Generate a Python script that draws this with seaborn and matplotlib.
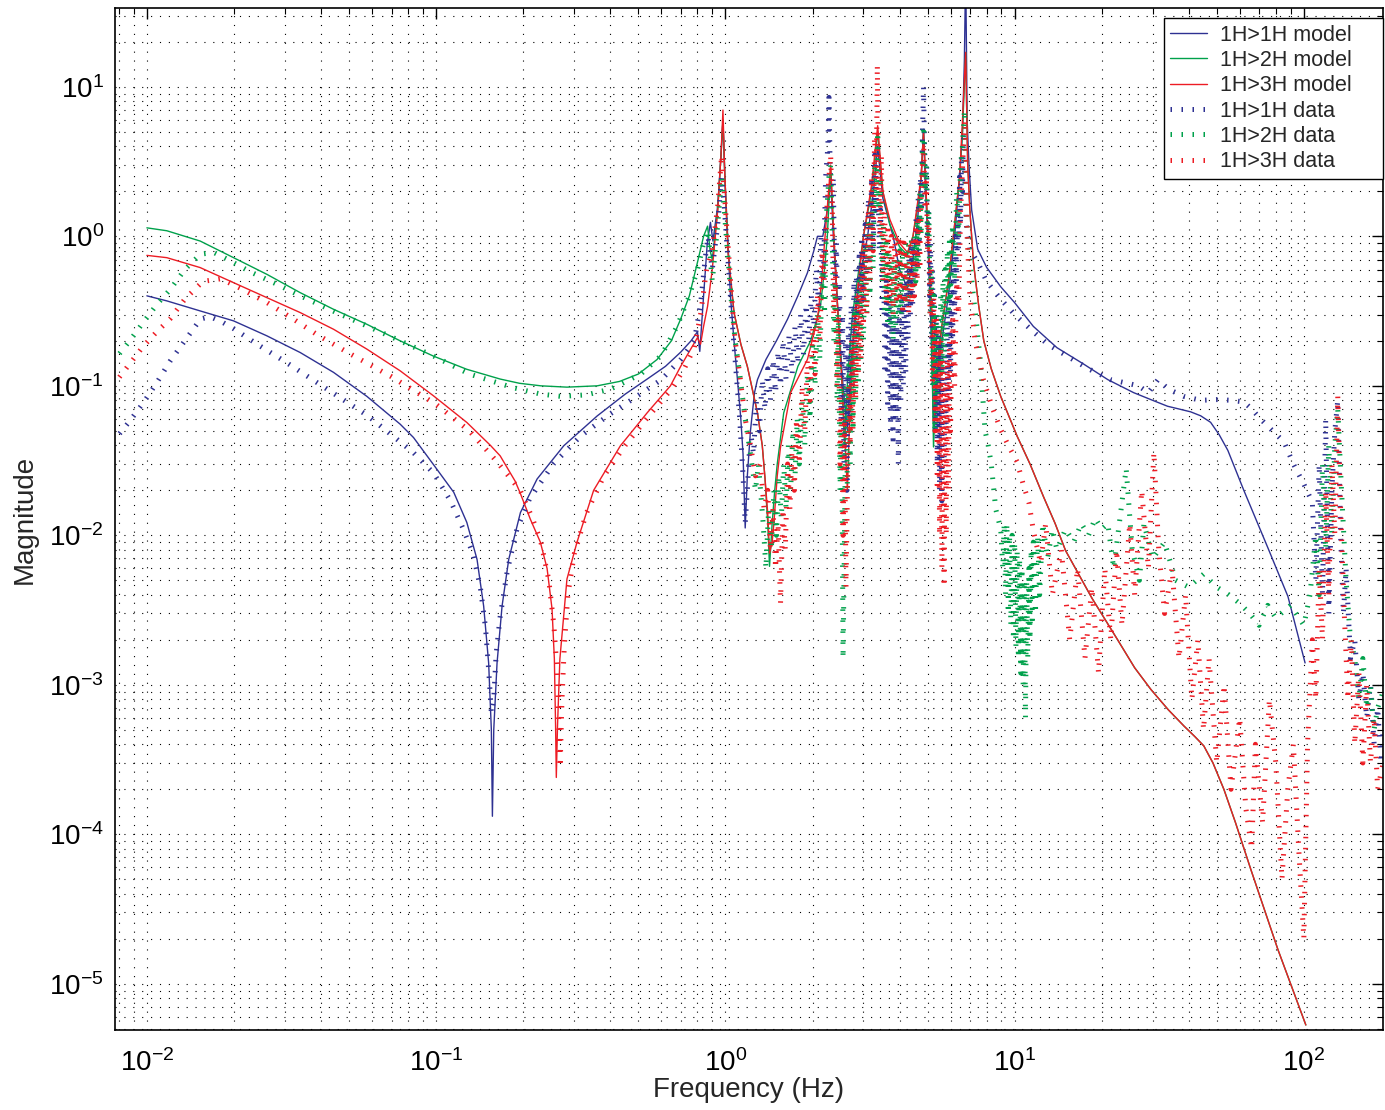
import numpy as np
import pandas as pd
import matplotlib
matplotlib.use("Agg")
import matplotlib.pyplot as plt
import seaborn as sns
from matplotlib.ticker import FixedLocator, LogLocator, NullFormatter, LogFormatterSciNotation

# ---------- Data (frequency in Hz, magnitude) ----------
model_1h1h = [
    (0.00998, 0.40), (0.0117, 0.370), (0.01526, 0.317), (0.0199, 0.272), (0.02595, 0.216),
    (0.03384, 0.167), (0.04413, 0.123), (0.05754, 0.085), (0.0750, 0.0554), (0.0834, 0.0451),
    (0.0978, 0.0297), (0.1149, 0.0194), (0.1275, 0.0122), (0.1383, 0.0069), (0.1458, 0.00336),
    (0.1517, 0.0014), (0.155, 0.0005), (0.1563, 0.000132), (0.158, 0.0005), (0.1622, 0.0014),
    (0.1688, 0.00336), (0.178, 0.0069), (0.1954, 0.0142), (0.2231, 0.0238), (0.2758, 0.0397),
    (0.3597, 0.0628), (0.45, 0.088), (0.536, 0.111), (0.62, 0.135), (0.70, 0.168), (0.76, 0.20),
    (0.80, 0.23), (0.815, 0.17), (0.84, 0.4), (0.865, 0.9), (0.887, 1.24), (0.905, 0.93),
    (0.94, 1.6), (0.965, 3.5), (0.98, 6.0), (0.995, 2.5), (1.02, 0.9), (1.04, 0.40), (1.07, 0.2),
    (1.10, 0.11), (1.13, 0.06), (1.15, 0.035), (1.17, 0.0112), (1.19, 0.025), (1.22, 0.05),
    (1.26, 0.09), (1.29, 0.11), (1.38, 0.15), (1.5, 0.2), (1.64, 0.28), (1.78, 0.4), (1.92, 0.57),
    (2.02, 0.8), (2.08, 1.0), (2.17, 1.0), (2.25, 1.5), (2.31, 2.5), (2.36, 1.0), (2.45, 0.3),
    (2.55, 0.1), (2.64, 0.05), (2.72, 0.15), (2.9, 0.5), (3.1, 1.0), (3.25, 2.0), (3.36, 4.0),
    (3.5, 1.8), (3.8, 1.0), (4.0, 0.6), (4.26, 0.45), (4.45, 0.7), (4.6, 1.2), (4.75, 2.5),
    (4.84, 5.2), (4.92, 2.0), (5.0, 1.0), (5.12, 0.3), (5.24, 0.06), (5.4, 0.12), (5.6, 0.2),
    (5.9, 0.4), (6.2, 1.0), (6.45, 2.5), (6.6, 5.0), (6.7, 15.0), (6.77, 60.0), (6.85, 6.0),
    (6.95, 3.0), (7.1, 1.5), (7.45, 0.82), (8.0, 0.62), (8.95, 0.46), (10.0, 0.36), (11.6, 0.25),
    (14.0, 0.18), (17.3, 0.14), (21.0, 0.11), (25.8, 0.090), (30.0, 0.08), (33.8, 0.073),
    (37.0, 0.07), (40.6, 0.067), (44.0, 0.063), (47.6, 0.057), (51.0, 0.047), (54.6, 0.037),
    (62.0, 0.020), (75.0, 0.0083), (88.1, 0.0039), (101.0, 0.0014),
]

model_1h2h = [
    (0.00998, 1.14), (0.0117, 1.09), (0.01526, 0.93), (0.0199, 0.72), (0.02595, 0.557),
    (0.03384, 0.42), (0.04413, 0.325), (0.05754, 0.258), (0.0750, 0.200), (0.0978, 0.158),
    (0.1275, 0.129), (0.1663, 0.111), (0.1939, 0.104), (0.23, 0.100), (0.283, 0.098),
    (0.36, 0.100), (0.43, 0.107), (0.50, 0.12), (0.58, 0.15), (0.65, 0.20), (0.70, 0.28),
    (0.75, 0.40), (0.80, 0.67), (0.84, 1.0), (0.867, 1.17), (0.885, 0.8), (0.90, 0.7),
    (0.94, 1.5), (0.965, 3.5), (0.98, 6.0), (0.995, 2.5), (1.02, 0.8), (1.07, 0.31), (1.13, 0.19),
    (1.19, 0.135), (1.29, 0.066), (1.34, 0.04), (1.37, 0.024), (1.40, 0.012), (1.42, 0.0062),
    (1.45, 0.012), (1.48, 0.02), (1.51, 0.03), (1.59, 0.066), (1.78, 0.135), (1.97, 0.20),
    (2.13, 0.34), (2.2, 0.6), (2.25, 1.0), (2.31, 2.9), (2.37, 1.0), (2.45, 0.3), (2.52, 0.12),
    (2.58, 0.04), (2.65, 0.12), (2.75, 0.3), (3.0, 1.0), (3.2, 2.0), (3.36, 5.0), (3.5, 2.0),
    (3.7, 1.2), (4.0, 0.85), (4.26, 0.75), (4.45, 1.0), (4.6, 1.5), (4.75, 2.5), (4.84, 5.0),
    (4.95, 1.8), (5.05, 0.8), (5.15, 0.3), (5.24, 0.039), (5.35, 0.1), (5.5, 0.2), (5.9, 0.5),
    (6.2, 1.2), (6.45, 2.5), (6.6, 5.0), (6.77, 17.0), (6.88, 3.0), (7.0, 1.5), (7.2, 0.67),
    (7.5, 0.35), (7.82, 0.20), (8.3, 0.13), (8.95, 0.085), (10.2, 0.046), (11.3, 0.03),
    (12.6, 0.018), (13.8, 0.012), (15.0, 0.0079), (18.5, 0.0038), (22.7, 0.0020), (26.0, 0.0013),
    (29.6, 0.00093), (34.0, 0.00068), (38.5, 0.00053), (42.0, 0.00045), (45.1, 0.00039),
    (48.5, 0.0003), (52.9, 0.00020), (58.0, 0.00012), (65.6, 0.000058), (81.3, 0.000017),
    (101.6, 0.0000053),
]

model_1h3h = [
    (0.00998, 0.746), (0.0117, 0.72), (0.01526, 0.618), (0.0199, 0.49), (0.02595, 0.389),
    (0.03384, 0.309), (0.04413, 0.239), (0.05754, 0.176), (0.0750, 0.126), (0.0978, 0.0857),
    (0.1275, 0.0569), (0.1538, 0.0400), (0.1663, 0.0340), (0.1874, 0.023), (0.1954, 0.019),
    (0.2115, 0.0128), (0.229, 0.0090), (0.2416, 0.0060), (0.2513, 0.00322), (0.256, 0.00149),
    (0.2585, 0.00053), (0.2600, 0.00024), (0.2625, 0.00053), (0.2675, 0.00149), (0.283, 0.0051),
    (0.3066, 0.0090), (0.35, 0.020), (0.433, 0.0397), (0.536, 0.066), (0.645, 0.10), (0.70, 0.135),
    (0.75, 0.17), (0.80, 0.21), (0.82, 0.19), (0.84, 0.25), (0.867, 0.34), (0.90, 0.6), (0.94, 1.5),
    (0.965, 3.5), (0.98, 7.0), (0.995, 2.5), (1.02, 0.8), (1.07, 0.31), (1.13, 0.19), (1.19, 0.135),
    (1.29, 0.066), (1.34, 0.04), (1.37, 0.024), (1.40, 0.014), (1.42, 0.0076), (1.45, 0.009),
    (1.47, 0.012), (1.51, 0.025), (1.55, 0.039), (1.68, 0.09), (1.92, 0.15), (2.08, 0.28),
    (2.15, 0.5), (2.2, 0.9), (2.31, 3.0), (2.37, 1.0), (2.45, 0.3), (2.55, 0.08), (2.64, 0.020),
    (2.7, 0.08), (2.8, 0.3), (3.0, 1.0), (3.2, 2.2), (3.36, 5.5), (3.5, 2.0), (3.7, 1.3), (4.0, 0.9),
    (4.26, 0.78), (4.45, 1.0), (4.6, 1.6), (4.75, 2.5), (4.84, 5.0), (4.95, 1.8), (5.05, 0.8),
    (5.18, 0.3), (5.3, 0.06), (5.42, 0.12), (5.6, 0.25), (5.9, 0.5), (6.2, 1.2), (6.45, 2.5),
    (6.6, 6.0), (6.77, 17.0), (6.88, 3.0), (7.0, 1.5), (7.2, 0.67), (7.5, 0.35), (7.82, 0.20),
    (8.3, 0.13), (8.95, 0.085), (10.2, 0.046), (11.3, 0.03), (12.6, 0.018), (13.8, 0.012),
    (15.0, 0.0079), (18.5, 0.0038), (22.7, 0.0020), (26.0, 0.0013), (29.6, 0.00093),
    (34.0, 0.00068), (38.5, 0.00053), (42.0, 0.00045), (45.1, 0.00039), (48.5, 0.0003),
    (52.9, 0.00020), (58.0, 0.00012), (65.6, 0.000058), (81.3, 0.000017), (101.6, 0.0000053),
]

data_1h1h = [
    (0.0076, 0.042), (0.0087, 0.058), (0.0097, 0.077), (0.0108, 0.105), (0.012, 0.146),
    (0.0135, 0.2), (0.0153, 0.28), (0.0165, 0.29), (0.018, 0.27), (0.02, 0.24), (0.024, 0.19),
    (0.03, 0.145), (0.0387, 0.105), (0.048, 0.08), (0.058, 0.063), (0.07, 0.047), (0.083, 0.036),
    (0.098, 0.026), (0.112, 0.017), (0.124, 0.011), (0.134, 0.0075), (0.142, 0.0045),
    (0.148, 0.0024), (0.152, 0.0012), (0.155, 0.00065), (0.158, 0.0008), (0.161, 0.0016),
    (0.166, 0.0028), (0.176, 0.0058), (0.19, 0.011), (0.21, 0.0175), (0.254, 0.030),
    (0.315, 0.046), (0.4, 0.065), (0.48, 0.082), (0.6, 0.11), (0.7, 0.15), (0.78, 0.2),
    (0.82, 0.35), (0.85, 0.7), (0.87, 1.0), (0.9, 0.6), (0.94, 1.2), (0.97, 2.5), (0.99, 1.6),
    (1.02, 0.7), (1.05, 0.3), (1.08, 0.15), (1.12, 0.06), (1.15, 0.025), (1.17, 0.012),
    (1.19, 0.02), (1.22, 0.05), (1.25, 0.035), (1.28, 0.08), (1.31, 0.05), (1.34, 0.11),
    (1.37, 0.07), (1.40, 0.13), (1.43, 0.08), (1.46, 0.15), (1.49, 0.09), (1.52, 0.17),
    (1.55, 0.1), (1.58, 0.2), (1.62, 0.11), (1.66, 0.22), (1.70, 0.12), (1.74, 0.25), (1.78, 0.14),
    (1.82, 0.3), (1.86, 0.16), (1.90, 0.35), (1.94, 0.2), (1.98, 0.4), (2.02, 0.25), (2.06, 0.6),
    (2.10, 0.35), (2.14, 1.0), (2.18, 0.5), (2.22, 2.5), (2.26, 4.0), (2.28, 8.5), (2.30, 3.0),
    (2.33, 1.5), (2.36, 2.5), (2.39, 0.4), (2.42, 0.9), (2.45, 0.15), (2.48, 0.5), (2.51, 0.06),
    (2.54, 0.3), (2.57, 0.03), (2.60, 0.2), (2.63, 0.02), (2.66, 0.25), (2.69, 0.06), (2.72, 0.35),
    (2.75, 0.1), (2.78, 0.5), (2.81, 0.15), (2.84, 0.6), (2.87, 0.2), (2.90, 0.8), (2.93, 0.3),
    (2.96, 1.0), (3.00, 0.35), (3.04, 1.2), (3.08, 0.5), (3.12, 1.8), (3.16, 0.6), (3.20, 2.5),
    (3.24, 0.8), (3.28, 3.5), (3.32, 1.5), (3.36, 4.0), (3.40, 0.8), (3.44, 1.5), (3.48, 0.3),
    (3.52, 0.8), (3.56, 0.12), (3.60, 0.5), (3.64, 0.07), (3.68, 0.4), (3.72, 0.05), (3.76, 0.3),
    (3.80, 0.04), (3.84, 0.25), (3.88, 0.06), (3.92, 0.3), (3.96, 0.03), (4.00, 0.35), (4.04, 0.08),
    (4.08, 0.4), (4.12, 0.1), (4.16, 0.5), (4.20, 0.12), (4.24, 0.6), (4.28, 0.2), (4.32, 0.7),
    (4.36, 0.3), (4.40, 0.9), (4.44, 0.35), (4.48, 1.0), (4.52, 0.5), (4.56, 1.3), (4.60, 0.6),
    (4.64, 1.8), (4.68, 0.8), (4.72, 2.5), (4.76, 1.5), (4.80, 5.0), (4.84, 10.0), (4.88, 4.0),
    (4.92, 2.0), (4.96, 3.0), (5.00, 0.8), (5.04, 1.5), (5.08, 0.4), (5.12, 0.9), (5.16, 0.2),
    (5.20, 0.6), (5.24, 0.1), (5.28, 0.4), (5.32, 0.05), (5.36, 0.3), (5.40, 0.03), (5.45, 0.25),
    (5.50, 0.02), (5.55, 0.2), (5.60, 0.017), (5.65, 0.15), (5.70, 0.03), (5.75, 0.2), (5.80, 0.05),
    (5.85, 0.3), (5.90, 0.08), (5.95, 0.4), (6.00, 0.12), (6.05, 0.5), (6.10, 0.2), (6.15, 0.7),
    (6.20, 0.3), (6.25, 1.0), (6.30, 0.5), (6.35, 1.5), (6.40, 0.8), (6.45, 2.5), (6.50, 1.2),
    (6.55, 3.5), (6.60, 2.0), (6.65, 5.0), (6.70, 3.0), (6.75, 2.0), (6.80, 1.2), (6.90, 1.0),
    (7.0, 0.8), (7.2, 0.75), (7.45, 0.67), (8.0, 0.5), (8.95, 0.38), (10.0, 0.3), (11.6, 0.23),
    (13.0, 0.19), (15.2, 0.158), (18.0, 0.13), (21.5, 0.11), (24.0, 0.105), (26.8, 0.10),
    (29.0, 0.09), (31.3, 0.11), (34.0, 0.095), (38.5, 0.085), (44.0, 0.08), (50.5, 0.081),
    (56.0, 0.08), (62.0, 0.078), (66.0, 0.07), (70.8, 0.060), (78.0, 0.05), (85.5, 0.042),
    (92.0, 0.03), (100.0, 0.022), (107.0, 0.0166), (110.0, 0.005), (113.0, 0.03), (116.0, 0.004),
    (119.0, 0.06), (122.0, 0.003), (125.0, 0.02), (128.0, 0.05), (131.0, 0.08), (134.0, 0.01),
    (137.0, 0.003), (140.0, 0.006), (145.0, 0.0015), (150.0, 0.002), (155.0, 0.0008),
    (160.0, 0.0012), (165.0, 0.0006), (170.0, 0.001), (175.0, 0.0004), (180.0, 0.0007),
    (185.0, 0.0003), (188.0, 0.0005),
]

data_1h2h = [
    (0.0076, 0.144), (0.0087, 0.2), (0.0097, 0.266), (0.0108, 0.35), (0.012, 0.44),
    (0.0135, 0.6), (0.0153, 0.76), (0.017, 0.78), (0.019, 0.7), (0.0227, 0.58), (0.028, 0.48),
    (0.0339, 0.40), (0.045, 0.31), (0.058, 0.25), (0.075, 0.2), (0.098, 0.158), (0.13, 0.12),
    (0.185, 0.097), (0.23, 0.088), (0.27, 0.085), (0.33, 0.087), (0.4, 0.095), (0.51, 0.12),
    (0.6, 0.16), (0.68, 0.25), (0.75, 0.4), (0.8, 0.6), (0.84, 0.9), (0.87, 1.1), (0.9, 0.5),
    (0.94, 1.2), (0.97, 2.5), (0.99, 1.5), (1.02, 0.7), (1.05, 0.35), (1.08, 0.2), (1.12, 0.12),
    (1.17, 0.06), (1.22, 0.035), (1.27, 0.02), (1.3, 0.03), (1.35, 0.012), (1.38, 0.006),
    (1.41, 0.015), (1.44, 0.008), (1.47, 0.02), (1.50, 0.01), (1.53, 0.025), (1.56, 0.013),
    (1.59, 0.03), (1.62, 0.015), (1.65, 0.04), (1.68, 0.02), (1.71, 0.05), (1.74, 0.025),
    (1.77, 0.06), (1.80, 0.03), (1.84, 0.08), (1.88, 0.04), (1.92, 0.12), (1.96, 0.06),
    (2.00, 0.2), (2.04, 0.1), (2.08, 0.3), (2.12, 0.15), (2.16, 0.6), (2.20, 0.3), (2.24, 1.5),
    (2.28, 2.5), (2.31, 3.0), (2.34, 1.0), (2.37, 0.2), (2.40, 0.5), (2.43, 0.08), (2.46, 0.3),
    (2.49, 0.02), (2.52, 0.1), (2.55, 0.0015), (2.58, 0.01), (2.61, 0.1), (2.64, 0.02),
    (2.67, 0.15), (2.70, 0.03), (2.73, 0.2), (2.76, 0.05), (2.79, 0.3), (2.82, 0.08), (2.85, 0.4),
    (2.88, 0.1), (2.91, 0.5), (2.94, 0.15), (2.97, 0.6), (3.00, 0.2), (3.04, 0.8), (3.08, 0.3),
    (3.12, 1.2), (3.16, 0.4), (3.20, 1.8), (3.24, 0.6), (3.28, 3.0), (3.32, 1.5), (3.36, 5.0),
    (3.40, 1.5), (3.44, 2.5), (3.48, 0.5), (3.52, 1.2), (3.56, 0.3), (3.60, 0.9), (3.64, 0.25),
    (3.68, 0.8), (3.72, 0.25), (3.76, 0.7), (3.80, 0.2), (3.84, 0.7), (3.88, 0.25), (3.92, 0.7),
    (3.96, 0.3), (4.00, 0.8), (4.05, 0.3), (4.10, 0.8), (4.15, 0.35), (4.20, 0.9), (4.25, 0.35),
    (4.30, 0.9), (4.35, 0.4), (4.40, 1.0), (4.45, 0.45), (4.50, 1.0), (4.55, 0.5), (4.60, 1.3),
    (4.65, 0.6), (4.70, 2.0), (4.75, 1.0), (4.80, 4.5), (4.85, 5.5), (4.90, 2.0), (4.95, 3.0),
    (5.00, 1.0), (5.05, 1.5), (5.10, 0.3), (5.15, 0.6), (5.20, 0.1), (5.25, 0.4), (5.30, 0.05),
    (5.35, 0.3), (5.40, 0.08), (5.45, 0.3), (5.50, 0.1), (5.55, 0.4), (5.60, 0.12), (5.65, 0.5),
    (5.70, 0.15), (5.75, 0.6), (5.80, 0.2), (5.85, 0.8), (5.90, 0.3), (5.95, 1.0), (6.00, 0.4),
    (6.10, 1.2), (6.20, 0.5), (6.30, 2.0), (6.40, 1.0), (6.50, 3.0), (6.60, 4.0), (6.70, 7.0),
    (6.80, 1.5), (6.90, 1.0), (7.05, 0.6), (7.2, 0.4), (7.4, 0.25), (7.6, 0.15), (7.9, 0.05),
    (8.1, 0.04), (8.3, 0.03), (8.6, 0.015), (8.95, 0.011), (9.1, 0.006), (9.2, 0.012),
    (9.3, 0.004), (9.4, 0.012), (9.5, 0.003), (9.6, 0.01), (9.7, 0.0025), (9.8, 0.01),
    (9.9, 0.002), (10.0, 0.009), (10.1, 0.0018), (10.2, 0.008), (10.3, 0.0015), (10.4, 0.007),
    (10.5, 0.0012), (10.6, 0.006), (10.7, 0.001), (10.8, 0.005), (10.9, 0.0006), (11.0, 0.005),
    (11.1, 0.0015), (11.2, 0.006), (11.3, 0.002), (11.4, 0.008), (11.5, 0.0025), (11.6, 0.009),
    (11.8, 0.003), (12.0, 0.01), (12.2, 0.004), (12.5, 0.012), (13.0, 0.007), (13.5, 0.011),
    (14.0, 0.008), (15.0, 0.011), (16.0, 0.009), (17.0, 0.012), (18.0, 0.010), (19.0, 0.013),
    (20.0, 0.011), (21.0, 0.012), (22.0, 0.006), (23.0, 0.012), (24.3, 0.028), (25.5, 0.008),
    (27.0, 0.005), (28.0, 0.012), (30.0, 0.007), (33.0, 0.009), (36.0, 0.005), (40.0, 0.0045),
    (45.0, 0.0055), (50.0, 0.0045), (55.0, 0.004), (60.0, 0.0035), (65.0, 0.003), (70.0, 0.0025),
    (75.0, 0.0034), (80.0, 0.0028), (90.0, 0.0034), (100.0, 0.0025), (105.0, 0.004),
    (110.0, 0.01), (113.0, 0.004), (116.0, 0.03), (119.0, 0.008), (122.0, 0.04), (125.0, 0.01),
    (128.0, 0.04), (131.0, 0.07), (135.0, 0.02), (140.0, 0.005), (145.0, 0.002), (150.0, 0.0015),
    (155.0, 0.0008), (160.0, 0.0015), (165.0, 0.0007), (170.0, 0.001), (175.0, 0.0005),
    (180.0, 0.0007), (188.0, 0.0009),
]

data_1h3h = [
    (0.0076, 0.10), (0.0087, 0.14), (0.0097, 0.184), (0.0108, 0.23), (0.012, 0.28),
    (0.0135, 0.38), (0.0156, 0.50), (0.018, 0.52), (0.021, 0.45), (0.026, 0.36), (0.032, 0.28),
    (0.0387, 0.22), (0.05, 0.165), (0.07, 0.115), (0.10, 0.075), (0.13, 0.05), (0.16, 0.032),
    (0.195, 0.02), (0.215, 0.013), (0.23, 0.009), (0.245, 0.005), (0.255, 0.0025),
    (0.262, 0.0012), (0.268, 0.00028), (0.272, 0.0008), (0.277, 0.0018), (0.285, 0.004),
    (0.30, 0.0075), (0.33, 0.014), (0.38, 0.025), (0.45, 0.04), (0.54, 0.062), (0.65, 0.095),
    (0.72, 0.13), (0.78, 0.18), (0.82, 0.3), (0.86, 0.6), (0.9, 0.8), (0.94, 1.6), (0.97, 3.5),
    (0.99, 2.0), (1.02, 0.9), (1.05, 0.4), (1.08, 0.2), (1.12, 0.12), (1.17, 0.06), (1.22, 0.04),
    (1.27, 0.025), (1.32, 0.03), (1.36, 0.015), (1.40, 0.02), (1.43, 0.008), (1.46, 0.015),
    (1.49, 0.006), (1.52, 0.012), (1.55, 0.0035), (1.58, 0.015), (1.61, 0.008), (1.64, 0.03),
    (1.67, 0.015), (1.70, 0.04), (1.73, 0.02), (1.76, 0.06), (1.80, 0.03), (1.84, 0.1),
    (1.88, 0.05), (1.92, 0.15), (1.96, 0.08), (2.00, 0.25), (2.04, 0.12), (2.08, 0.4),
    (2.12, 0.2), (2.16, 0.8), (2.20, 0.5), (2.24, 1.5), (2.28, 2.5), (2.31, 3.5), (2.34, 1.5),
    (2.37, 0.3), (2.40, 0.6), (2.43, 0.1), (2.46, 0.3), (2.49, 0.03), (2.52, 0.08), (2.55, 0.01),
    (2.58, 0.06), (2.61, 0.0045), (2.64, 0.02), (2.67, 0.1), (2.70, 0.04), (2.73, 0.2),
    (2.76, 0.05), (2.79, 0.3), (2.82, 0.08), (2.85, 0.4), (2.88, 0.12), (2.91, 0.5), (2.94, 0.15),
    (2.97, 0.8), (3.00, 0.25), (3.04, 1.0), (3.08, 0.3), (3.12, 1.5), (3.16, 0.5), (3.20, 2.5),
    (3.24, 0.8), (3.28, 5.0), (3.32, 2.0), (3.35, 14.0), (3.38, 3.0), (3.42, 1.0), (3.46, 3.5),
    (3.50, 0.5), (3.55, 1.5), (3.60, 0.35), (3.65, 1.2), (3.70, 0.35), (3.75, 1.0), (3.80, 0.3),
    (3.85, 1.0), (3.90, 0.35), (3.95, 1.0), (4.00, 0.4), (4.05, 1.0), (4.10, 0.3), (4.15, 0.9),
    (4.20, 0.35), (4.25, 0.8), (4.30, 0.3), (4.35, 0.9), (4.40, 0.35), (4.45, 1.0), (4.50, 0.4),
    (4.55, 1.2), (4.60, 0.5), (4.65, 1.5), (4.70, 0.6), (4.75, 2.0), (4.80, 3.0), (4.85, 4.0),
    (4.90, 1.5), (4.95, 2.5), (5.00, 0.8), (5.05, 1.2), (5.10, 0.3), (5.15, 0.6), (5.20, 0.1),
    (5.25, 0.4), (5.30, 0.05), (5.35, 0.3), (5.40, 0.02), (5.45, 0.25), (5.50, 0.01), (5.55, 0.2),
    (5.60, 0.006), (5.65, 0.15), (5.70, 0.0045), (5.75, 0.1), (5.80, 0.01), (5.85, 0.15),
    (5.90, 0.02), (5.95, 0.2), (6.00, 0.05), (6.10, 0.3), (6.20, 0.1), (6.30, 0.5), (6.40, 0.3),
    (6.50, 1.5), (6.55, 2.0), (6.65, 4.0), (6.75, 6.0), (6.85, 1.0), (7.0, 0.4), (7.3, 0.2),
    (7.8, 0.11), (8.4, 0.07), (8.95, 0.051), (9.5, 0.04), (10.2, 0.031), (10.7, 0.022),
    (11.2, 0.0166), (11.6, 0.0108), (12.3, 0.0065), (12.8, 0.012), (13.5, 0.004), (14.5, 0.008),
    (15.5, 0.002), (16.5, 0.006), (17.5, 0.0015), (18.5, 0.0045), (19.5, 0.0012), (20.5, 0.006),
    (21.5, 0.002), (22.5, 0.008), (23.5, 0.0025), (25.0, 0.012), (26.0, 0.004), (27.5, 0.02),
    (29.0, 0.006), (30.3, 0.036), (31.5, 0.008), (33.0, 0.003), (35.0, 0.006), (37.0, 0.0015),
    (39.0, 0.004), (41.0, 0.0008), (43.0, 0.002), (45.0, 0.0005), (47.0, 0.0015), (50.0, 0.0003),
    (53.0, 0.001), (56.0, 0.0002), (60.0, 0.0006), (63.0, 0.00015), (66.0, 0.00008),
    (68.0, 0.0004), (72.0, 0.00012), (76.0, 0.0008), (80.0, 0.0003), (84.0, 0.00005),
    (88.0, 0.0002), (92.0, 0.0004), (96.0, 0.00008), (100.0, 0.00002), (103.0, 0.0004),
    (107.0, 0.002), (110.0, 0.0008), (113.0, 0.006), (116.0, 0.002), (119.0, 0.02),
    (122.0, 0.004), (125.0, 0.03), (128.0, 0.01), (131.0, 0.085), (134.0, 0.015), (138.0, 0.003),
    (142.0, 0.0008), (146.0, 0.002), (150.0, 0.0004), (155.0, 0.0012), (160.0, 0.0003),
    (165.0, 0.001), (170.0, 0.0003), (175.0, 0.0006), (180.0, 0.0002), (188.0, 0.0003),
]

BLUE = "#2e3192"
GREEN = "#00a14b"
RED = "#ed1c24"

# ---------- Style ----------
sns.set_theme(style="white")
plt.rcParams["font.family"] = ["Liberation Sans", "DejaVu Sans"]
plt.rcParams["mathtext.fontset"] = "custom"
plt.rcParams["mathtext.rm"] = "Liberation Sans"
plt.rcParams["mathtext.it"] = "Liberation Sans:italic"

fig = plt.figure(figsize=(13.85, 11.1), dpi=100)
ax = fig.add_axes([0.083, 0.072, 0.9155, 0.9208])

series = [
    (model_1h1h, BLUE, "1H>1H model", "model"),
    (model_1h2h, GREEN, "1H>2H model", "model"),
    (model_1h3h, RED, "1H>3H model", "model"),
    (data_1h1h, BLUE, "1H>1H data", "data"),
    (data_1h2h, GREEN, "1H>2H data", "data"),
    (data_1h3h, RED, "1H>3H data", "data"),
]

for pts, col, lab, kind in series:
    df = pd.DataFrame(pts, columns=["freq", "mag"])
    if kind == "model":
        sns.lineplot(data=df, x="freq", y="mag", color=col, label=lab,
                     linewidth=1.0, estimator=None, sort=False, ax=ax)
    else:
        sns.lineplot(data=df, x="freq", y="mag", color=col, label=lab,
                     linewidth=3.6, estimator=None, sort=False, ax=ax)
        # very short wide dashes -> little ticks across the path, like the original
        ax.lines[-1].set_linestyle((0, (0.3, 1.9)))
        ax.lines[-1].set_dash_capstyle("butt")

ax.set_xscale("log")
ax.set_yscale("log")
ax.set_xlim(0.00774, 187.7)
ax.set_ylim(4.9e-6, 33.7)

ax.xaxis.set_major_locator(FixedLocator([1e-2, 1e-1, 1e0, 1e1, 1e2]))
ax.yaxis.set_major_locator(FixedLocator([1e-5, 1e-4, 1e-3, 1e-2, 1e-1, 1e0, 1e1]))
ax.xaxis.set_major_formatter(LogFormatterSciNotation())
ax.yaxis.set_major_formatter(LogFormatterSciNotation())
ax.xaxis.set_minor_locator(LogLocator(base=10, subs=np.arange(2, 10), numticks=40))
ax.yaxis.set_minor_locator(LogLocator(base=10, subs=np.arange(2, 10), numticks=40))
ax.xaxis.set_minor_formatter(NullFormatter())
ax.yaxis.set_minor_formatter(NullFormatter())

ax.grid(True, which="both", color="black", linestyle=(0, (1, 7)), linewidth=0.8)
ax.tick_params(which="both", direction="in", top=True, right=True, labelsize=20, colors="black")
ax.tick_params(axis="x", which="major", pad=14)
ax.tick_params(axis="y", which="major", pad=8)
ax.tick_params(which="major", length=8, width=1)
ax.tick_params(which="minor", length=4, width=0.8)
for s in ax.spines.values():
    s.set_color("black")
    s.set_linewidth(1.2)

ax.set_xlabel("Frequency (Hz)", fontsize=20, labelpad=0)
ax.set_ylabel("Magnitude", fontsize=20, labelpad=8)

# legend box pinned to the upper right, fixed width like the original
leg = ax.legend(loc="upper right", bbox_to_anchor=(0.8273, 0.0, 0.1727, 0.99), mode="expand",
                fontsize=15.5, frameon=True, fancybox=False, framealpha=1, edgecolor="black",
                borderaxespad=0, handlelength=1.7, handletextpad=0.6,
                labelspacing=0.2, borderpad=0.3)
leg.get_frame().set_linewidth(1.0)

fig.savefig("out.png", dpi=100)
